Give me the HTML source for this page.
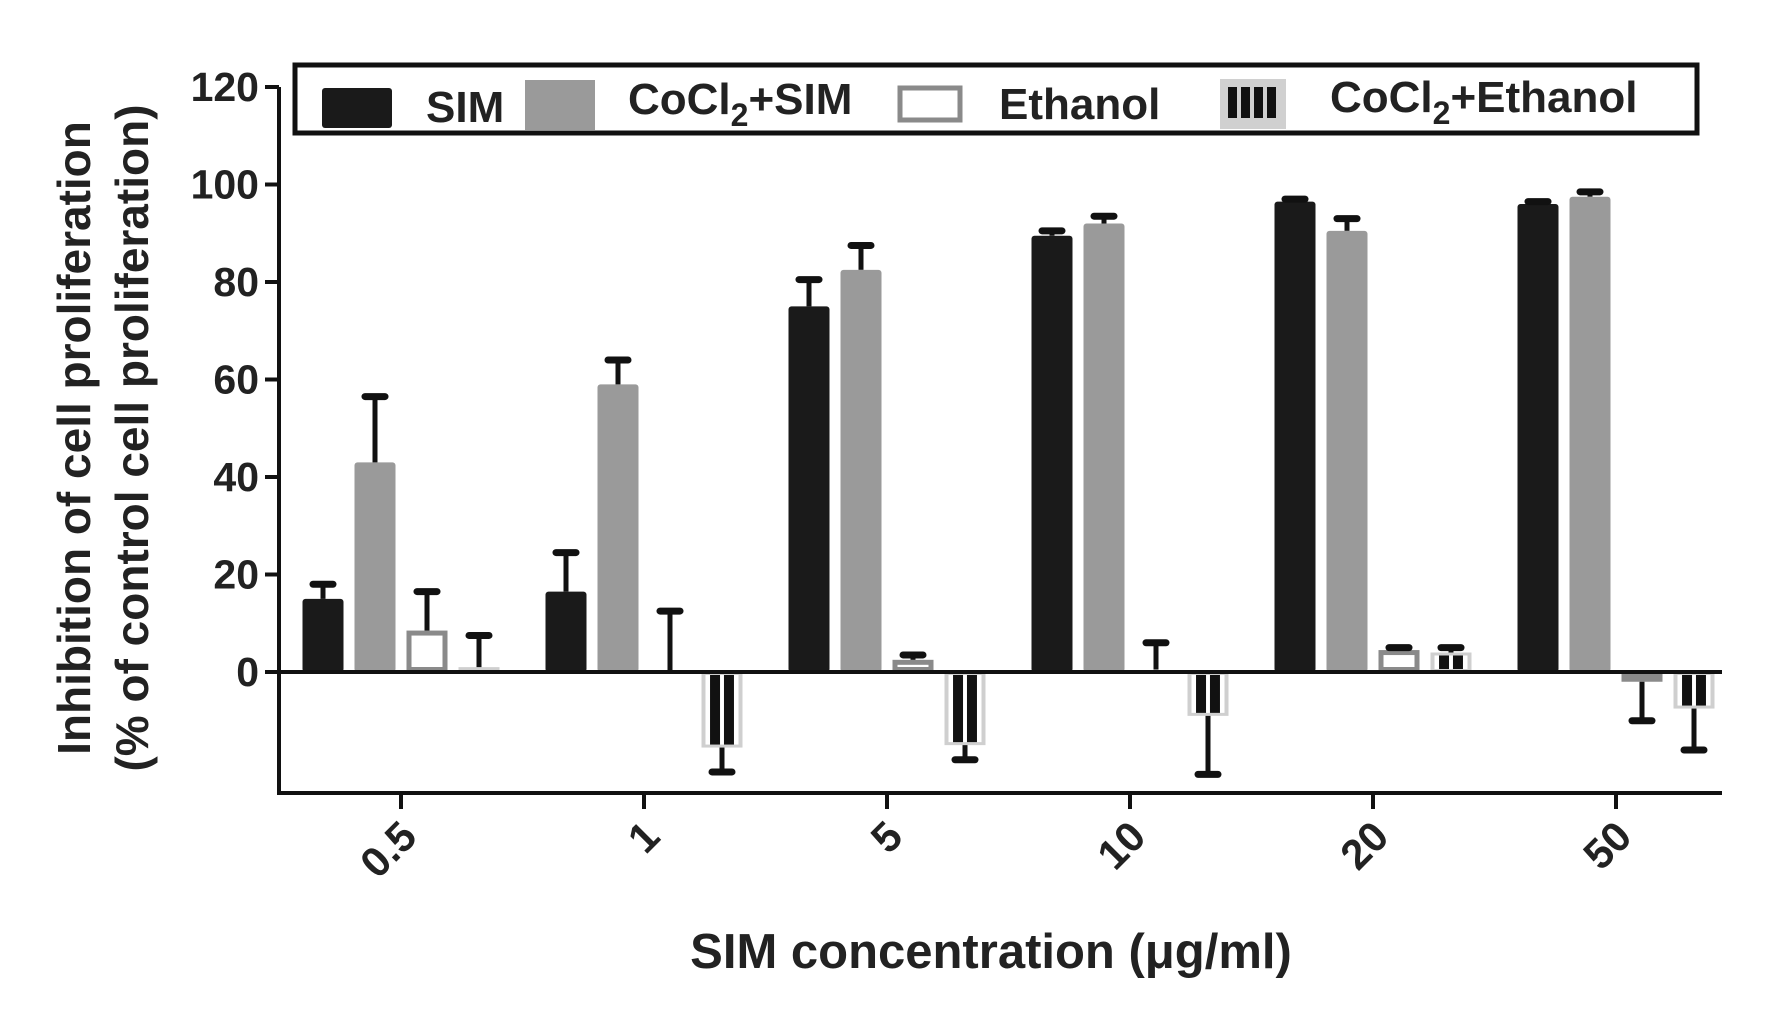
<!DOCTYPE html>
<html><head><meta charset="utf-8"><style>
html,body{margin:0;padding:0;background:#fff;}
svg{display:block;font-family:"Liberation Sans",Arial,sans-serif;font-weight:bold;}
</style></head><body>
<svg id="chart" width="1773" height="1017" viewBox="0 0 1773 1017"></svg>
<script>
const categories = ["0.5","1","5","10","20","50"];
const seriesNames = ["SIM","CoCl2+SIM","Ethanol","CoCl2+Ethanol"];
const simValues = [15, 16.5, 75, 89.5, 96.5, 96];
const simErrors = [3, 8, 5.5, 1, 0.5, 0.5];
const cocSimValues = [43, 59, 82.5, 92, 90.5, 97.5];
const cocSimErrors = [13.5, 5, 5, 1.5, 2.5, 1];
const ethValues = [8.5, 0, 2.5, 0.5, 4.5, -2];
const ethErrors = [8, 12.5, 1, 5.5, 0.5, 8];
const cocEthValues = [1, -15.5, -15, -9, 4, -7.5];
const cocEthErrors = [6.5, 5, 3, 12, 1, 8.5];
const yTicks = [0, 20, 40, 60, 80, 100, 120];

const NS = "http://www.w3.org/2000/svg";
const svg = document.getElementById("chart");
function mk(tag, attrs, parent) {
  const e = document.createElementNS(NS, tag);
  for (const k in attrs) e.setAttribute(k, attrs[k]);
  (parent || svg).appendChild(e);
  return e;
}
const x0 = 279, x1 = 1722, yTop = 87, yZero = 672, yBottom = 793;
const pxPerUnit = (yZero - yTop) / 120;
function yScale(v) { return yZero - v * pxPerUnit; }
function xGroup(i) { return 401 + i * 243; }
const offsets = [-78, -26, 26, 78];
const barW = 41;

const axis = mk("path", {d:`M${x0},${yTop} L${x0},${yBottom} L${x1},${yBottom}`, fill:"none", stroke:"#111", "stroke-width":4});



yTicks.forEach(t => {
  const y = yScale(t);
  const tk = mk("line", {x1:x0-14, x2:x0, y1:y, y2:y, stroke:"#111", "stroke-width":4});
  
  
  const lb = mk("text", {x:x0-20, y:y+14, "text-anchor":"end", "font-size":41, fill:"#222"});
  lb.textContent = t;
  
  
});

categories.forEach((c, i) => {
  const x = xGroup(i);
  const tk = mk("line", {x1:x, x2:x, y1:yBottom, y2:yBottom+16, stroke:"#111", "stroke-width":4});
  
  
  const lb = mk("text", {x:0, y:0, "text-anchor":"end", "font-size":42, fill:"#222",
    transform:`translate(${x+18},${yBottom+46}) rotate(-45)`});
  lb.textContent = c;
  
  
});

function drawErr(x, v, e) {
  const sgn = v < 0 ? -1 : 1;
  const yA = yScale(v), yB = yScale(v + sgn * e);
  const l = mk("line", {x1:x, x2:x, y1:yA, y2:yB, stroke:"#111", "stroke-width":5});
  
  
  const cap = mk("line", {x1:x-10, x2:x+10, y1:yB, y2:yB, stroke:"#111", "stroke-width":7, "stroke-linecap":"round"});
  
  
}

function drawBar(s, i, v, e) {
  const cx = xGroup(i) + offsets[s];
  const left = cx - barW/2;
  const yv = yScale(v);
  const top = Math.min(yv, yZero), h = Math.abs(yv - yZero);
  let r;
  if (s === 0) r = mk("rect", {x:left, y:top, width:barW, height:h, fill:"#1a1a1a", rx:3});
  else if (s === 1) r = mk("rect", {x:left, y:top, width:barW, height:h, fill:"#9a9a9a", rx:3});
  else if (s === 2) r = mk("rect", {x:left+2.5, y:top+2.5, width:barW-5, height:Math.max(h-5,0), fill:"#fff", stroke: h > 3 ? "#8a8a8a" : "none", "stroke-width":5});
  else {
    r = mk("rect", {x:left, y:top, width:barW, height:h, fill:"#cfcfcf"});
    if (h > 6) {
      mk("rect", {x:left+4, y:top+3, width:barW-8, height:h-6, fill:"#fff"});
      [0.33, 0.67].forEach(f => {
        const st = mk("rect", {x:left + barW*f - 5, y:top+3, width:10, height:h-6, fill:"#111"});
        
        
      });
    }
  }
  
  
  drawErr(cx, v, e);
}

const allVals = [simValues, cocSimValues, ethValues, cocEthValues];
const allErrs = [simErrors, cocSimErrors, ethErrors, cocEthErrors];
for (let s = 0; s < 4; s++) for (let i = 0; i < categories.length; i++) drawBar(s, i, allVals[s][i], allErrs[s][i]);

const zl = mk("line", {x1:x0, x2:x1, y1:yZero, y2:yZero, stroke:"#111", "stroke-width":4});


</script>
<svg style="position:absolute;left:0;top:0" width="1773" height="1017">
  <g>
    <rect x="295" y="65" width="1402" height="68" fill="#fff" stroke="#111" stroke-width="5"/>
    <rect x="322" y="88" width="70" height="40" fill="#1a1a1a" rx="3"/>
    <text x="426" y="122" font-size="44" fill="#222">SIM</text>
    <rect x="525" y="80" width="70" height="50" fill="#9a9a9a"/>
    <text x="628" y="114" font-size="44" fill="#222">CoCl<tspan font-size="32" dy="12">2</tspan><tspan dy="-12">+SIM</tspan></text>
    <rect x="900" y="88" width="60" height="32" fill="#fff" stroke="#8a8a8a" stroke-width="5"/>
    <text x="999" y="119" font-size="44" fill="#222">Ethanol</text>
    <g>
      <rect x="1220" y="79" width="66" height="50" fill="#d0d0d0"/>
      <rect x="1228" y="87" width="9" height="31" fill="#111"/>
      <rect x="1241" y="87" width="9" height="31" fill="#111"/>
      <rect x="1254" y="87" width="9" height="31" fill="#111"/>
      <rect x="1267" y="87" width="9" height="31" fill="#111"/>
    </g>
    <text x="1330" y="112" font-size="44" fill="#222">CoCl<tspan font-size="32" dy="12">2</tspan><tspan dy="-12">+Ethanol</tspan></text>
  </g>
  <text transform="translate(90,438) rotate(-90)" text-anchor="middle" font-size="46" fill="#222">Inhibition of cell proliferation</text>
  <text transform="translate(148,438) rotate(-90)" text-anchor="middle" font-size="46" fill="#222">(% of control cell proliferation)</text>
  <text x="991" y="968" text-anchor="middle" font-size="49" fill="#222">SIM concentration (μg/ml)</text>
</svg>
</body></html>
